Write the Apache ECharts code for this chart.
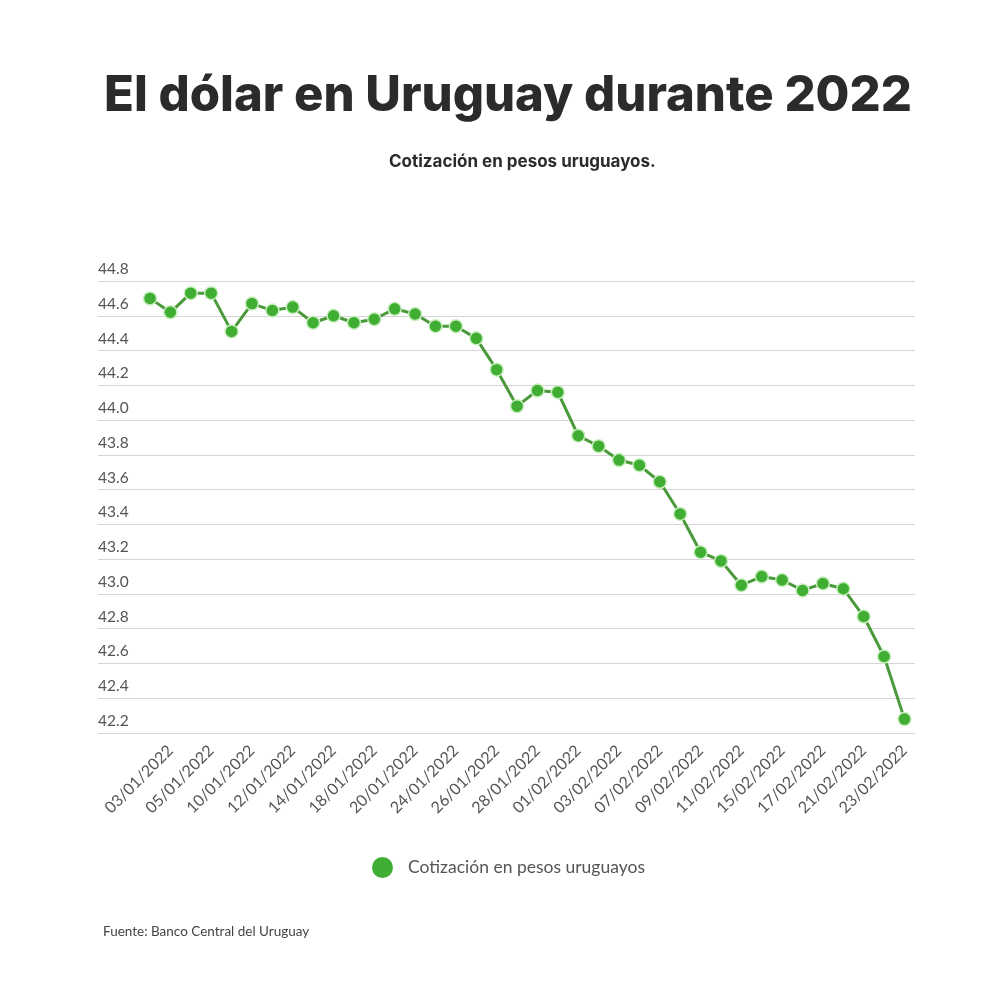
<!DOCTYPE html>
<html>
<head>
<meta charset="utf-8">
<script src="https://cdn.jsdelivr.net/npm/echarts@6/dist/echarts.min.js"></script>
<style>html,body{margin:0;padding:0;background:#fff}#c{width:1000px;height:1000px}</style>
</head>
<body>
<div id="c"></div>
<script>
const categories = ["30/12/2021","03/01/2022","04/01/2022","05/01/2022","07/01/2022","10/01/2022","11/01/2022","12/01/2022","13/01/2022","14/01/2022","17/01/2022","18/01/2022","19/01/2022","20/01/2022","21/01/2022","24/01/2022","25/01/2022","26/01/2022","27/01/2022","28/01/2022","31/01/2022","01/02/2022","02/02/2022","03/02/2022","04/02/2022","07/02/2022","08/02/2022","09/02/2022","10/02/2022","11/02/2022","14/02/2022","15/02/2022","16/02/2022","17/02/2022","18/02/2022","21/02/2022","22/02/2022","23/02/2022"];
const cotizacion = [44.70,44.62,44.73,44.73,44.51,44.67,44.63,44.65,44.56,44.60,44.56,44.58,44.64,44.61,44.54,44.54,44.47,44.29,44.08,44.17,44.16,43.91,43.85,43.77,43.74,43.645,43.46,43.24,43.19,43.05,43.10,43.08,43.02,43.06,43.03,42.87,42.64,42.28];
const yMin = 42.2, yMax = 44.8, yStep = 0.2;
const titleText = "El dólar en Uruguay durante 2022";
const subtitleText = "Cotización en pesos uruguayos.";
const seriesName = "Cotización en pesos uruguayos";
const sourceText = "Fuente: Banco Central del Uruguay";

const chart = echarts.init(document.getElementById('c'));
const labelFont = 'Lato, "Open Sans", sans-serif';
chart.setOption({
  backgroundColor: '#fff',
  animation: false,
  title: [
    { text: titleText, left: 104, top: 72, padding: 0,
      textStyle: { fontFamily: 'Inter', fontWeight: 800, fontSize: 49, color: '#2b2b2b' } },
    { text: subtitleText, left: 389, top: 153, padding: 0,
      textStyle: { fontFamily: 'Inter', fontWeight: 700, fontSize: 17, color: '#2b2b2b' } },
    { text: sourceText, left: 103, top: 925, padding: 0,
      textStyle: { fontFamily: labelFont, fontWeight: 'normal', fontSize: 13.5, color: '#444' } }
  ],
  legend: {
    data: [seriesName], left: 372, top: 857, padding: 0,
    icon: 'circle', itemWidth: 21, itemHeight: 21, itemGap: 10,
    itemStyle: { borderWidth: 0 },
    textStyle: { fontFamily: labelFont, fontSize: 17.5, color: '#555', padding: [0, 0, 0, 10] }
  },
  grid: [
    { left: 98, right: 85, top: 281, bottom: 267 },
    { left: 150, right: 95.5, top: 281, bottom: 267 }
  ],
  xAxis: [
    { gridIndex: 0, type: 'value', min: 0, max: 1, show: false },
    { gridIndex: 1, type: 'category', data: categories, boundaryGap: false,
      axisLine: { show: false }, axisTick: { show: false },
      axisLabel: { interval: (i) => i % 2 === 1, rotate: 45, margin: 15,
        fontFamily: labelFont, fontSize: 16, color: '#555' } }
  ],
  yAxis: [
    { gridIndex: 0, type: 'value', min: yMin, max: yMax, interval: yStep,
      axisLine: { show: false }, axisTick: { show: false },
      splitLine: { lineStyle: { color: '#d6d6d6', width: 1.2 } },
      axisLabel: { inside: true, margin: 0, verticalAlign: 'bottom', padding: [0, 0, 4, 0],
        formatter: (v) => v.toFixed(1),
        fontFamily: labelFont, fontSize: 15.5, color: '#555' } },
    { gridIndex: 1, type: 'value', min: yMin, max: yMax, interval: yStep, show: false }
  ],
  series: [
    { name: seriesName, type: 'line', xAxisIndex: 1, yAxisIndex: 1, data: cotizacion,
      symbol: 'circle', symbolSize: 13,
      lineStyle: { color: '#4a9a3b', width: 3 },
      itemStyle: { color: '#3fae32', borderColor: '#c9efc0', borderWidth: 1.5 } }
  ]
});
</script>
</body>
</html>
